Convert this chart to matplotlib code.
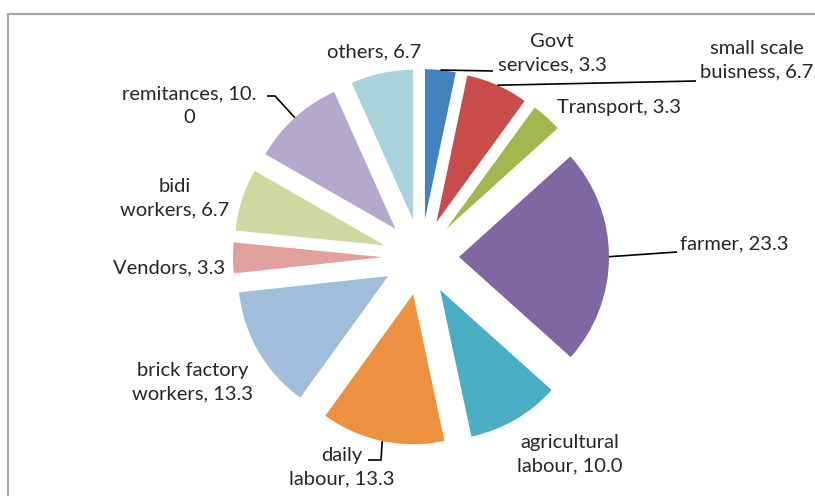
import numpy as np
import matplotlib
matplotlib.use("Agg")
import matplotlib.pyplot as plt
from matplotlib.patches import Rectangle

# Occupation shares (%) of surveyed households
categories = ["Govt services", "small scale buisness", "Transport", "farmer",
              "agricultural labour", "daily labour", "brick factory workers",
              "Vendors", "bidi workers", "remitances", "others"]
values = [3.3, 6.7, 3.3, 23.3, 10.0, 13.3, 13.3, 3.3, 6.7, 10.0, 6.7]
label_texts = ["Govt\nservices, 3.3", "small scale\nbuisness, 6.7", "Transport, 3.3",
               "farmer, 23.3", "agricultural\nlabour, 10.0", "daily\nlabour, 13.3",
               "brick factory\nworkers, 13.3", "Vendors, 3.3", "bidi\nworkers, 6.7",
               "remitances, 10.\n0", "others, 6.7"]

colors = ["#4382BF", "#C84D4A", "#A2B74F", "#7F67A3", "#49ADC3", "#EC913F",
          "#A0BDDC", "#E1A09E", "#CDD9A1", "#B4A9CC", "#A8D3DC"]

W, H = 815, 496
fig = plt.figure(figsize=(W / 100, H / 100), dpi=100)
ax = fig.add_axes([0, 0, 1, 1])


def py(y):
    """Convert a top-down pixel row into axes units."""
    return H - y


RADIUS = 150
GAP = 38  # radial offset of every slice, in axes units

wedges, _ = ax.pie(values, colors=colors, startangle=90, counterclock=False,
                   radius=RADIUS, center=(421, py(257)),
                   explode=[GAP] * len(values),
                   wedgeprops=dict(linewidth=0), frame=True)
ax.set_xlim(0, W)
ax.set_ylim(0, H)
ax.set_aspect("equal")
ax.axis("off")

# chart-area frame
ax.add_patch(Rectangle((8, py(600)), 900, 586, fill=False,
                       edgecolor="#A6A6A6", linewidth=1.6))


def arc_mid(w):
    a = np.deg2rad((w.theta1 + w.theta2) / 2)
    cx, cy = w.center
    return cx + w.r * np.cos(a), cy + w.r * np.sin(a)


font = dict(family=["Lato", "DejaVu Sans"], fontsize=14.5, color="#262626")

# label placement: (x, y-from-top, horizontal alignment)
placement = [(552, 53, "center"), (757, 60, "center"), (557, 108, "left"),
             (680, 244, "left"), (570, 454, "center"), (342, 467, "center"),
             (193, 382, "center"), (225, 268, "right"), (175, 198, "center"),
             (189, 106, "center"), (374, 52, "center")]

for txt, (x, y, ha) in zip(label_texts, placement):
    ax.text(x, py(y), txt, ha=ha, va="center", multialignment="center",
            linespacing=1.48, **font)

# leader lines from slice arcs to their labels (top-down pixel rows)
leaders = {0: [(493, 71)], 1: [(696, 81)], 3: [(677, 252)],
           5: [(381, 460), (368, 460)], 9: [(275, 96), (267, 96)]}
for i, pts in leaders.items():
    x0, y0 = arc_mid(wedges[i])
    xs = [x0] + [p[0] for p in pts]
    ys = [y0] + [py(p[1]) for p in pts]
    ax.plot(xs, ys, color="#000000", linewidth=1.2, solid_capstyle="butt")

fig.savefig("out.png", dpi=100)
